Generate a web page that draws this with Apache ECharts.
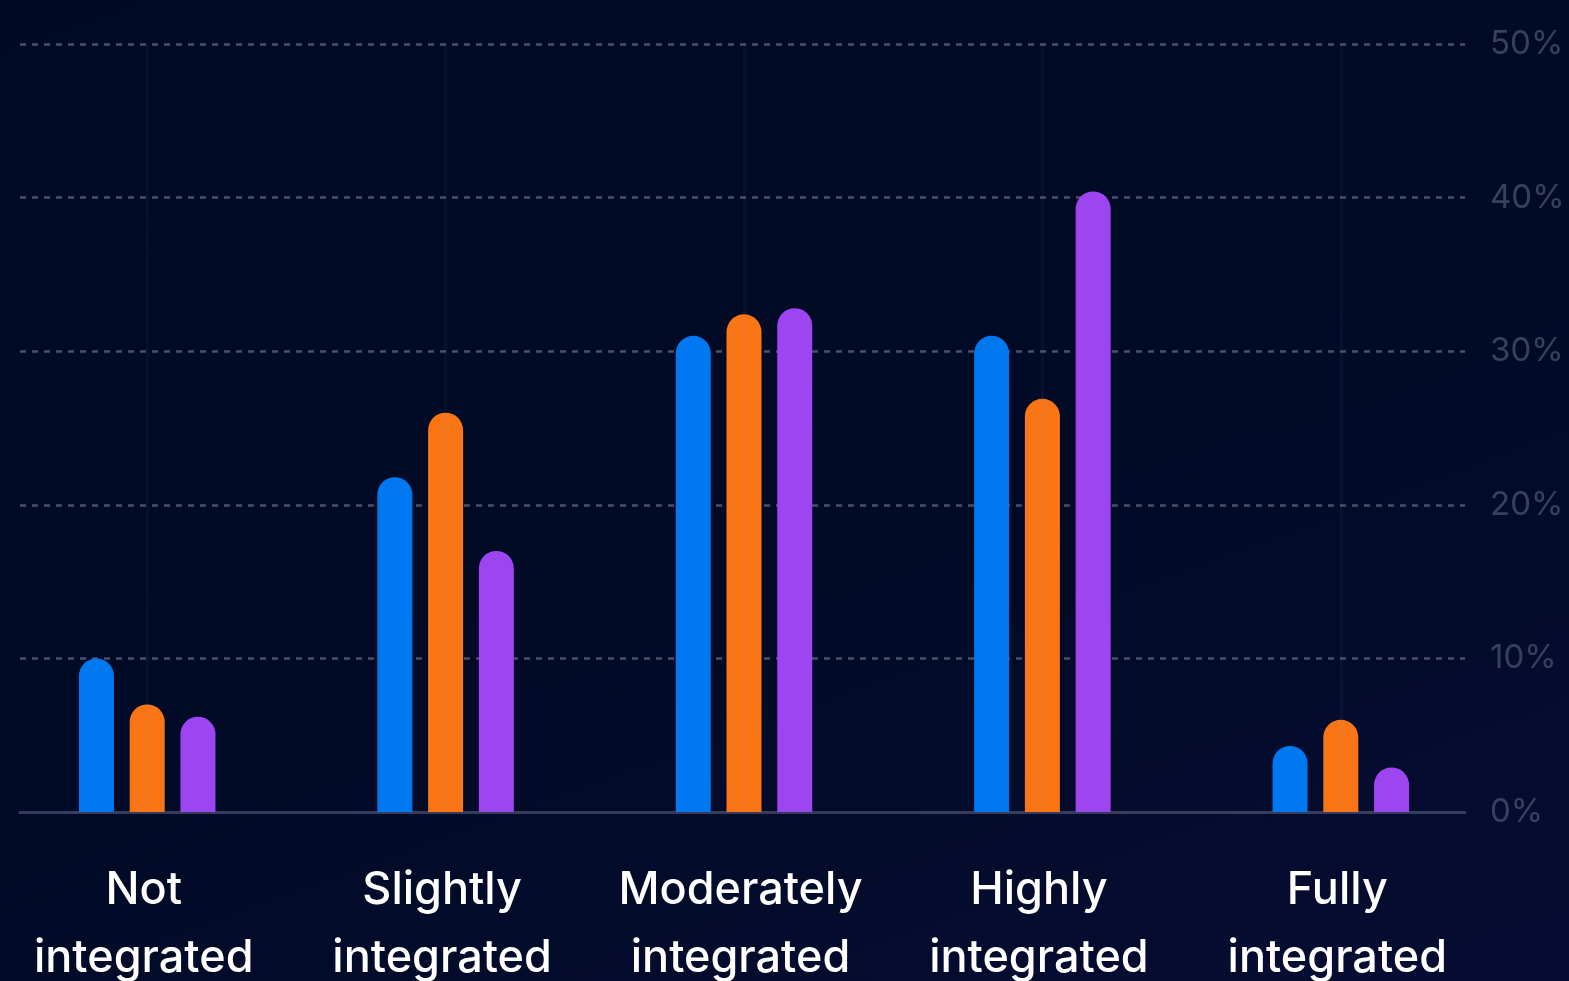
<!DOCTYPE html>
<html>
<head>
<meta charset="utf-8">
<script src="https://cdn.jsdelivr.net/npm/echarts@6/dist/echarts.min.js"></script>
<style>
  html, body { margin: 0; padding: 0; }
  body { background: linear-gradient(160deg, #000a24 0%, #010b27 60%, #080c33 100%); }
  #chart { width: 1569px; height: 981px; }
</style>
</head>
<body>
<div id="chart"></div>
<script>
const categories = ["Not\nintegrated", "Slightly\nintegrated", "Moderately\nintegrated", "Highly\nintegrated", "Fully\nintegrated"];
const seriesBlue = [10, 21.8, 31, 31, 4.3];
const seriesOrange = [7, 26, 32.4, 26.9, 6];
const seriesPurple = [6.2, 17, 32.8, 40.4, 2.9];
const yTicks = [0, 10, 20, 30, 40, 50];

const chart = echarts.init(document.getElementById("chart"), null, { renderer: "canvas" });

function barSeries(name, data, color) {
  return {
    name: name,
    type: "bar",
    xAxisIndex: 0,
    yAxisIndex: 0,
    data: data,
    barWidth: 35,
    barGap: "45%",
    itemStyle: { color: color, borderRadius: [17.5, 17.5, 0, 0] },
    z: 3
  };
}

const option = {
  backgroundColor: "transparent",
  animation: false,
  grid: [
    { left: -2, right: 79, top: 44, bottom: 169, outerBoundsMode: "none", containLabel: false },
    { left: 20, right: 104, top: 44, bottom: 169, outerBoundsMode: "none", containLabel: false }
  ],
  xAxis: [
    {
      type: "category",
      gridIndex: 0,
      data: categories,
      axisLine: { show: false },
      axisTick: { show: false },
      splitLine: { show: false },
      axisLabel: {
        interval: 0,
        hideOverlap: false,
        color: "#ffffff",
        fontSize: 45,
        fontFamily: "Inter, 'Open Sans', sans-serif",
        fontWeight: 500,
        lineHeight: 68,
        margin: 44,
        padding: [0, 7, 0, 0]
      }
    },
    {
      type: "value",
      gridIndex: 1,
      min: 0,
      max: 1,
      axisLine: { show: true, onZero: true, lineStyle: { color: "#363d5c", width: 3 } },
      axisTick: { show: false },
      axisLabel: { show: false },
      splitLine: { show: false }
    }
  ],
  yAxis: [
    { type: "value", gridIndex: 0, min: 0, max: 50, show: false },
    {
      type: "value",
      gridIndex: 1,
      position: "right",
      min: 0,
      max: 50,
      interval: 10,
      axisLine: { show: false },
      axisTick: { show: false },
      axisLabel: {
        color: "#38415c",
        fontSize: 33,
        fontFamily: "Inter, 'Open Sans', sans-serif",
        margin: 25,
        formatter: function (v) { return yTicks.indexOf(v) >= 0 ? v + "%" : ""; }
      },
      splitLine: {
        show: true,
        lineStyle: { color: "#4a5068", width: 2.5, type: [6, 6] }
      }
    }
  ],
  series: [
    {
      name: "guides",
      type: "line",
      xAxisIndex: 0,
      yAxisIndex: 0,
      data: [],
      silent: true,
      markLine: {
        silent: true,
        symbol: "none",
        label: { show: false },
        lineStyle: { color: "rgba(120,140,200,0.06)", width: 3, type: "solid" },
        data: categories.map(function (c) { return { xAxis: c }; })
      },
      z: 1
    },
    barSeries("Blue", seriesBlue, "#0078f0"),
    barSeries("Orange", seriesOrange, "#fa7516"),
    barSeries("Purple", seriesPurple, "#9d45f0")
  ]
};

chart.setOption(option);
</script>
</body>
</html>
